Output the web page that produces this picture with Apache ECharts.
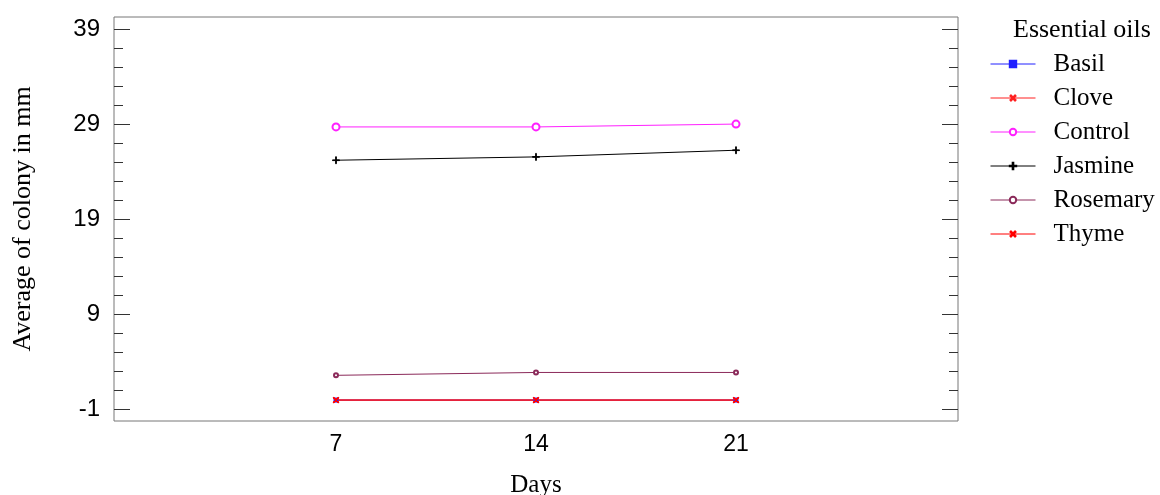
<!DOCTYPE html>
<html>
<head>
<meta charset="utf-8">
<script src="https://cdn.jsdelivr.net/npm/echarts@6/dist/echarts.min.js"></script>
<style>
html,body{margin:0;padding:0;background:#fff;}
#chart{width:1160px;height:495px;}
</style>
</head>
<body>
<div id="chart"></div>
<script>
// ---- data ----
const days = [7, 14, 21];
const seriesNames = ['Basil', 'Clove', 'Control', 'Jasmine', 'Rosemary', 'Thyme'];
const basil = [0, 0, 0];
const clove = [0, 0, 0];
const control = [28.7, 28.7, 29.0];
const jasmine = [25.2, 25.55, 26.25];
const rosemary = [2.6, 2.9, 2.9];
const thyme = [0, 0, 0];
const xTickLabels = [7, 14, 21];
const yMajorTicks = [-1, 9, 19, 29, 39];
const yMinorTicks = [1, 3, 5, 7, 11, 13, 15, 17, 21, 23, 25, 27, 31, 33, 35, 37];

const Y_MIN = -2.2, Y_MAX = 40.25;
const X_MIN = -0.77, X_MAX = 28.77;

const PLUS = 'path://M4.5,0H5.5V10H4.5Z M0,4.5H10V5.5H0Z';

function pts(vals) { return days.map((d, i) => [d, vals[i]]); }

function mk(name, vals, color, symbol, size, extra) {
  return Object.assign({
    name: name,
    type: 'line',
    data: pts(vals),
    symbol: symbol,
    symbolSize: size,
    showSymbol: true,
    lineStyle: { color: color, width: 1 },
    itemStyle: { color: color, borderColor: color, borderWidth: 1 },
    emphasis: { disabled: true },
    animation: false
  }, extra || {});
}

const tickColor = '#333';
function tickAxis(position, ticks, len) {
  return {
    type: 'value', position: position, min: Y_MIN, max: Y_MAX, offset: 0,
    axisLine: { show: false },
    splitLine: { show: false },
    axisTick: { show: true, inside: true, length: len, customValues: ticks, lineStyle: { color: tickColor, width: 1 } },
    axisLabel: { show: false }
  };
}

const yAxes = [
  {
    type: 'value', position: 'left', min: Y_MIN, max: Y_MAX, offset: 0,
    axisLine: { show: false }, splitLine: { show: false }, axisTick: { show: false },
    axisLabel: { show: true, customValues: yMajorTicks, fontFamily: 'Liberation Sans, Arial', fontSize: 24, color: '#000', margin: 14 },
    name: 'Average of colony in mm', nameLocation: 'middle', nameGap: 78,
    nameTextStyle: { fontFamily: 'Liberation Serif, Times New Roman', fontSize: 26, color: '#000' }
  },
  tickAxis('left', yMajorTicks, 16),
  tickAxis('left', yMinorTicks, 9),
  tickAxis('right', yMajorTicks, 16),
  tickAxis('right', yMinorTicks, 9)
];

const chart = echarts.init(document.getElementById('chart'));
chart.setOption({
  backgroundColor: '#fff',
  animation: false,
  title: {
    text: 'Essential oils', left: 1008, top: 12,
    textStyle: { fontFamily: 'Liberation Serif, Times New Roman', fontSize: 26, fontWeight: 'normal', color: '#000' }
  },
  grid: { left: 114, right: 202, top: 17, bottom: 74, show: true, borderColor: '#777', borderWidth: 1, backgroundColor: '#fff', containLabel: false, outerBoundsMode: 'none' },
  legend: {
    orient: 'vertical', left: 990, top: 51.5, padding: 0, itemWidth: 45, itemHeight: 8, itemGap: 9,
    data: seriesNames,
    lineStyle: { width: 1 },
    textStyle: { fontFamily: 'Liberation Serif, Times New Roman', fontSize: 25, color: '#000', padding: [0, 0, 0, 13] },
    selectedMode: false
  },
  xAxis: {
    type: 'value', min: X_MIN, max: X_MAX,
    name: 'Days', nameLocation: 'middle', nameGap: 52,
    nameTextStyle: { fontFamily: 'Liberation Serif, Times New Roman', fontSize: 25, color: '#000' },
    axisLine: { show: false }, axisTick: { show: false }, splitLine: { show: false },
    axisLabel: { customValues: xTickLabels, fontFamily: 'Liberation Sans, Arial', fontSize: 23, color: '#000', margin: 12 }
  },
  yAxis: yAxes,
  series: [
    mk('Basil', basil, '#2020ff', 'rect', 4),
    mk('Clove', clove, '#ff2020', PLUS, 6, { symbolRotate: 45 }),
    mk('Control', control, '#ff20ff', 'emptyCircle', 7),
    mk('Jasmine', jasmine, '#000000', PLUS, 7),
    mk('Rosemary', rosemary, '#8b2a5a', 'emptyCircle', 4),
    mk('Thyme', thyme, '#ff0000', PLUS, 7, { symbolRotate: 45 })
  ]
});
</script>
</body>
</html>
